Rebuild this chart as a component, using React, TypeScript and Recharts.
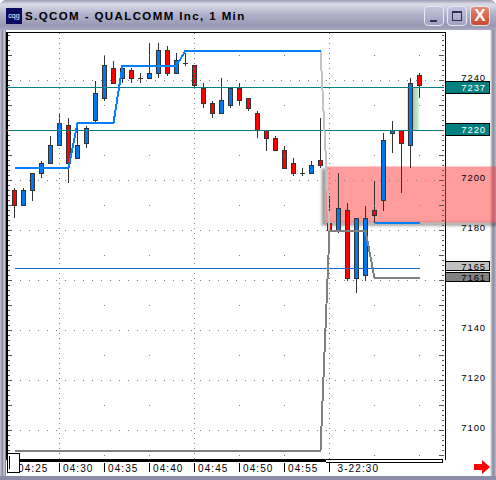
import React from "react";
import { ComposedChart, Bar, Line, XAxis, YAxis, ReferenceLine, ReferenceArea, ReferenceDot } from "recharts";

const opens = [7196,7190,7196,7203,7207,7214,7222,7209,7215,7224,7233,7245,7241,7244,7241,7241,7243,7252,7243,7247,7246,7237,7231,7227,7230,7237,7233,7227,7220,7217,7212,7207,7203,7203,7208,7183,7180,7188,7161,7162,7188,7192,7219,7220,7214,7242];
const closes = [7190,7196,7203,7207,7214,7223,7207,7214,7221,7235,7246,7239,7245,7241,7241,7243,7252,7243,7248,7247,7238,7231,7227,7232,7237,7232,7229,7220,7217,7212,7205,7203,7203,7206,7206,7180,7189,7161,7185,7185,7186,7216,7220,7215,7239,7238];
const highs = [7197,7197,7203,7208,7218,7227,7225,7221,7222,7240,7250,7248,7246,7245,7243,7255,7255,7254,7251,7251,7246,7239,7232,7241,7237,7239,7233,7228,7220,7218,7214,7209,7205,7208,7225,7194,7203,7191,7185,7190,7200,7219,7224,7220,7241,7243];
const lows = [7185,7190,7192,7201,7207,7214,7199,7209,7213,7223,7232,7239,7239,7239,7239,7241,7241,7242,7243,7246,7237,7229,7225,7227,7229,7230,7228,7217,7212,7212,7205,7202,7202,7203,7205,7180,7179,7160,7155,7160,7183,7188,7211,7195,7205,7233];
const upperBand = [7205,7205,7205,7205,7205,7205,7205,7223,7223,7223,7223,7223,7246,7246,7246,7246,7246,7246,7246,7252,7252,7252,7252,7252,7252,7252,7252,7252,7252,7252,7252,7252,7252,7252,7252,null,null,null,null,null,7183,7183,7183,7183,7183,7183];
const lowerBand = [7092,7092,7092,7092,7092,7092,7092,7092,7092,7092,7092,7092,7092,7092,7092,7092,7092,7092,7092,7092,7092,7092,7092,7092,7092,7092,7092,7092,7092,7092,7092,7092,7092,7092,7092,7180,7180,7180,7180,7180,7161,7161,7161,7161,7161,7161];
const fallIndex = [34, 35];
const fallValues = [7252, 7180];

const timeIndex = [0, 5, 10, 15, 20, 25, 30, 35];
const timeLabels = ["04:25", "04:30", "04:35", "04:40", "04:45", "04:50", "04:55", "3-22:30"];
const denseColumns = [5, 20, 35];
const sparseColumns = [10, 15, 25, 30, 40, 45];
const denseRows = [7240, 7220, 7200, 7180, 7160, 7140, 7120, 7100];
const sparseRows = [7250, 7230, 7210, 7190, 7170, 7150, 7130, 7110, 7090];
const axisTicks = [7258,7256,7254,7252,7250,7248,7246,7244,7242,7240,7238,7236,7234,7232,7230,7228,7226,7224,7222,7220,7218,7216,7214,7212,7210,7208,7206,7204,7202,7200,7198,7196,7194,7192,7190,7188,7186,7184,7182,7180,7178,7176,7174,7172,7170,7168,7166,7164,7162,7160,7158,7156,7154,7152,7150,7148,7146,7144,7142,7140,7138,7136,7134,7132,7130,7128,7126,7124,7122,7120,7118,7116,7114,7112,7110,7108,7106,7104,7102,7100,7098,7096,7094,7092,7090];
const levelValues = [7237, 7220, 7165, 7161];
const levelFills = ["#008080", "#008080", "#c0c0c0", "#808080"];
const levelText = ["#ffffff", "#ffffff", "#000000", "#000000"];

const rows = opens.map((o, i) => ({
  i, open: o, close: closes[i], high: highs[i], low: lows[i], upper: upperBand[i], lower: lowerBand[i],
  fall: fallIndex.includes(i) ? fallValues[fallIndex.indexOf(i)] : null,
}));

const FONT = "'Liberation Sans', Arial, sans-serif";
const DOMAIN_X: [number, number] = [(7 - 14.5) / 9, (444 - 14.5) / 9];
const DOMAIN_Y: [number, number] = [7088.6, 7259.4];

function Candle(props: any) {
  const { x, y, width, height, payload } = props;
  const cx = Math.round(x + width / 2 - 0.5) + 0.5;
  const k = height / (payload.high - payload.low);
  const top = y + (payload.high - Math.max(payload.open, payload.close)) * k;
  const bot = y + (payload.high - Math.min(payload.open, payload.close)) * k;
  const doji = payload.open === payload.close;
  const up = payload.close > payload.open;
  return (
    <g shapeRendering="crispEdges">
      <line x1={cx} x2={cx} y1={y} y2={y + height} stroke="#333333" />
      {doji ? (
        <line x1={cx - 2.5} x2={cx + 2.5} y1={top} y2={top} stroke="#333333" />
      ) : (
        <rect x={cx - 2} y={top} width={4} height={Math.max(bot - top, 1)} fill={up ? "#0078f0" : "#ff0000"} stroke="#333333" />
      )}
    </g>
  );
}

function RightTick(props: any) {
  const v = props.payload.value;
  const y = props.y;
  const major = v % 10 === 0;
  return (
    <g>
      <line x1={major ? 439 : 442} x2={444} y1={y} y2={y} stroke="#555555" shapeRendering="crispEdges" />
      {v % 20 === 0 && v !== 7220 && (
        <text x={486} y={y + 0.5} textAnchor="end" fontFamily={FONT} fontSize={9.5} letterSpacing={0.9} fill="#000">{v}</text>
      )}
    </g>
  );
}
function LeftTick(props: any) {
  const v = props.payload.value;
  return <line x1={8} x2={v % 10 === 0 ? 12 : 9.5} y1={props.y} y2={props.y} stroke="#555555" shapeRendering="crispEdges" />;
}
function LevelTick(props: any) {
  const v = props.payload.value;
  const idx = levelValues.indexOf(v);
  const low = v < 7200;
  const y = Math.round(props.y) - (v === 7161 ? 6 : 7);
  const h = low ? 9 : 12;
  return (
    <g>
      <rect x={445.5} y={y + 0.5} width={44} height={h} fill={levelFills[idx]} stroke="#000" shapeRendering="crispEdges" />
      <text x={486} y={y + h / 2 + 4} textAnchor="end" fontFamily={FONT} fontSize={9.5} letterSpacing={0.9} fill={levelText[idx]}>{v}</text>
    </g>
  );
}
function TimeTick(props: any) {
  const v = props.payload.value;
  const x = Math.round(props.x - 0.5) + 0.5;
  const label = timeLabels[timeIndex.indexOf(v)];
  return (
    <g>
      <line x1={x} x2={x} y1={463} y2={472} stroke="#000" shapeRendering="crispEdges" />
      <text x={x + (label.length > 5 ? 8 : 3.5)} y={472} fontFamily={FONT} fontSize={10} letterSpacing={1.1} fill="#000">{label}</text>
    </g>
  );
}

function Dot1(props: any) {
  return <rect x={Math.floor(props.cx)} y={Math.floor(props.cy)} width={1} height={1} fill="#808080" shapeRendering="crispEdges" />;
}

function BandShape(props: any) {
  const { x, y, width, height } = props;
  return (
    <g>
      <path d={`M${x - 4} ${y + 2} H${x} V${y + height} H${x + width} V${y + height + 3} H${x - 4} Z`} fill="#333" opacity={0.55} style={{ filter: "blur(1.5px)" }} />
      <rect x={x} y={y} width={width} height={height} fill="#ff3c3c" fillOpacity={0.5} />
    </g>
  );
}
function GreenShape(props: any) {
  const { x, y, width, height } = props;
  return (
    <g>
      <defs>
        <linearGradient id="greenGlow" x1="0" x2="1" y1="0" y2="0">
          <stop offset="0" stopColor="#1a3a22" stopOpacity={0.75} />
          <stop offset="0.3" stopColor="#3c8c58" stopOpacity={0.55} />
          <stop offset="1" stopColor="#a0e6b4" stopOpacity={0.6} />
        </linearGradient>
      </defs>
      <rect x={x} y={y} width={width} height={height} fill="url(#greenGlow)" />
    </g>
  );
}

function Chrome() {
  const btn = (left: number, bg: string): React.CSSProperties => ({
    position: "absolute", left, top: 6, width: 20, height: 20, borderRadius: 4, background: bg,
    border: "1px solid #e8e8f4", boxSizing: "border-box",
  });
  return (
    <>
      <div style={{ position: "absolute", left: 0, top: 0, width: 496, height: 480, background: "#a6a6c0", borderRadius: "6px 6px 0 0" }} />
      <div style={{ position: "absolute", left: 0, top: 0, width: 496, height: 30, borderRadius: "6px 6px 0 0", background: "linear-gradient(#9c9cb4 0%, #dcdce8 14%, #b4b4cc 45%, #9898b4 85%, #a8a8c0 100%)" }} />
      <div style={{ position: "absolute", left: 0, top: 30, width: 6, height: 450, background: "linear-gradient(90deg,#c8c8d8,#8888a0 40%,#d0d0dc 70%,#70708c)" }} />
      <div style={{ position: "absolute", left: 6, top: 30, width: 486, height: 446, background: "#ffffff" }} />
      <div style={{ position: "absolute", left: 490, top: 30, width: 6, height: 450, background: "linear-gradient(90deg,#f4f4e8,#8888a0 50%,#b8b8cc)" }} />
      <div style={{ position: "absolute", left: 0, top: 476, width: 496, height: 4, background: "#8c8ca8" }} />
      <div style={{ position: "absolute", left: 6, top: 8, width: 16, height: 16, background: "#0a0a60", color: "#fff", fontFamily: FONT, fontSize: 7, lineHeight: "15px", textAlign: "center" }}>cqg</div>
      <div style={{ position: "absolute", left: 25, top: 9, fontFamily: FONT, fontWeight: 700, fontSize: 11.5, letterSpacing: 1.4, color: "#000", whiteSpace: "nowrap", lineHeight: "15px" }}>S.QCOM - QUALCOMM Inc, 1 Min</div>
      <div style={btn(424, "linear-gradient(#c4c4dc,#a0a0c0)")}><div style={{ position: "absolute", left: 5, top: 13, width: 7, height: 2, background: "#303050" }} /></div>
      <div style={btn(447, "linear-gradient(#c4c4dc,#a0a0c0)")}><div style={{ position: "absolute", left: 4, top: 4, width: 10, height: 10, border: "1px solid #303050", borderTopWidth: 2, boxSizing: "border-box" }} /></div>
      <div style={{ ...btn(470, "linear-gradient(#e88870,#c84830)"), color: "#fff", fontFamily: FONT, fontWeight: 700, fontSize: 17, lineHeight: "18px", textAlign: "center" }}>X</div>
      <div style={{ position: "absolute", left: 6, top: 32, width: 437, height: 427, borderLeft: "2px solid #000", borderTop: "1px solid #000", borderRight: "1px solid #000" }} />
      <div style={{ position: "absolute", left: 7, top: 459, width: 319, height: 3, background: "#000" }} />
      <div style={{ position: "absolute", left: 326, top: 459, width: 116, height: 2, background: "#fff", borderBottom: "1px solid #000", borderRight: "1px solid #000", borderTop: "1px solid #000" }} />
    </>
  );
}

export default function App() {
  return (
    <div style={{ position: "absolute", left: 0, top: 0, width: 496, height: 480, overflow: "hidden" }}>
      <Chrome />
      <div style={{ position: "absolute", left: 0, top: 0 }}>
        <ComposedChart width={496} height={480} data={rows} margin={{ top: 32, left: 6, right: 50, bottom: 20 }} barSize={5}>
          <XAxis dataKey="i" type="number" domain={DOMAIN_X} allowDataOverflow ticks={timeIndex} interval={0} height={1} axisLine={false} tickLine={false} tick={TimeTick} />
          <YAxis yAxisId="left" orientation="left" width={1} domain={DOMAIN_Y} allowDataOverflow ticks={axisTicks} interval={0} axisLine={false} tickLine={false} tick={LeftTick} />
          <YAxis orientation="right" width={1} domain={DOMAIN_Y} allowDataOverflow ticks={axisTicks} interval={0} axisLine={false} tickLine={false} tick={RightTick} />
          <YAxis yAxisId="levels" orientation="right" width={1} domain={DOMAIN_Y} allowDataOverflow ticks={levelValues} interval={0} axisLine={false} tickLine={false} tick={LevelTick} />

          {denseColumns.map((c) => <ReferenceLine key={"c" + c} x={c} stroke="#808080" strokeDasharray="1 4" shapeRendering="crispEdges" />)}
          {denseRows.map((r) => <ReferenceLine key={"r" + r} y={r} segment={[{ x: 0.95, y: r }, { x: 47.5, y: r }]} stroke="#808080" strokeDasharray="1 8" shapeRendering="crispEdges" />)}
          {sparseRows.flatMap((r) => sparseColumns.map((c) => <ReferenceDot key={r + "-" + c} x={c} y={r} r={1} shape={Dot1} />))}

          <ReferenceLine y={levelValues[0] + 0.3} stroke="#008080" shapeRendering="crispEdges" />
          <ReferenceLine y={levelValues[1]} stroke="#008080" shapeRendering="crispEdges" />
          <ReferenceLine segment={[{ x: 0, y: levelValues[2] }, { x: 45, y: levelValues[2] }]} stroke="#1468d0" shapeRendering="crispEdges" />

          <Line dataKey="lower" stroke="#808080" strokeWidth={2} dot={false} activeDot={false} isAnimationActive={false} shapeRendering="crispEdges" />
          <Line dataKey="fall" stroke="#c4c4c4" strokeWidth={2} dot={false} activeDot={false} isAnimationActive={false} shapeRendering="crispEdges" />
          <Line dataKey="upper" stroke="#0080ff" strokeWidth={2} dot={false} activeDot={false} isAnimationActive={false} shapeRendering="crispEdges" />
          <Bar dataKey={(d: any) => [d.low, d.high]} shape={Candle} isAnimationActive={false} />

          <ReferenceArea x1={34.6} x2={54} y1={7183.2} y2={7205.6} ifOverflow="visible" shape={BandShape} />
          <ReferenceArea x1={43.7} x2={44.9} y1={7220} y2={7237} ifOverflow="visible" shape={GreenShape} />
        </ComposedChart>
      </div>
      <div style={{ position: "absolute", left: 7, top: 453, width: 13, height: 20, background: "#fff", border: "1px solid #000", boxSizing: "border-box" }}>
        <div style={{ position: "absolute", left: 1, top: 2, width: 1, height: 13, background: "#000" }} />
      </div>
      <svg style={{ position: "absolute", left: 474, top: 460 }} width={16} height={14}>
        <path d="M0 4 H8 V0 L16 7 L8 14 V10 H0 Z" fill="#ff0000" />
      </svg>
    </div>
  );
}
